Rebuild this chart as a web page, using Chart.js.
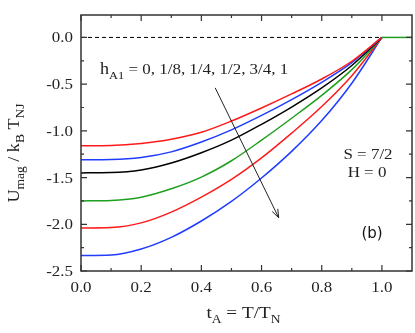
<!DOCTYPE html>
<html>
<head>
<meta charset="utf-8">
<script src="https://cdn.jsdelivr.net/npm/chart.js@4.4.0/dist/chart.umd.min.js"></script>
<style>
  body { margin: 0; background: #fff; }
  canvas { display: block; }
</style>
</head>
<body>
<canvas id="chart" width="415" height="333"></canvas>
<script>
// reduced temperature t_A
const tValues = [0, 0.1, 0.2, 0.3, 0.4, 0.5, 0.6, 0.7, 0.8, 0.9, 1.0];

// U_mag / k_B T_NJ for each h_A1
const uH0   = [-1.16, -1.157, -1.135, -1.09, -1.015, -0.895, -0.755, -0.605, -0.445, -0.255, 0];
const uH1_8 = [-1.31, -1.307, -1.285, -1.225, -1.12, -0.99, -0.835, -0.665, -0.48, -0.27, 0];
const uH1_4 = [-1.45, -1.447, -1.42, -1.345, -1.235, -1.1, -0.93, -0.745, -0.54, -0.30, 0];
const uH1_2 = [-1.75, -1.745, -1.71, -1.62, -1.495, -1.32, -1.1, -0.865, -0.62, -0.345, 0];
const uH3_4 = [-2.04, -2.035, -1.985, -1.87, -1.71, -1.52, -1.29, -1.025, -0.74, -0.41, 0];
const uH1   = [-2.335, -2.33, -2.265, -2.14, -1.965, -1.755, -1.505, -1.22, -0.89, -0.49, 0];

// above T_N the energy stays at zero
const tailT = [1.0, 1.1];
const tailU = [0, 0];
// dashed reference line
const zeroT = [0, 1.0];
const zeroU = [0, 0];

const xMajorTicks = [0, 0.2, 0.4, 0.6, 0.8, 1.0];
const xMinorTicks = [0.1, 0.3, 0.5, 0.7, 0.9];
const yMajorTicks = [0, -0.5, -1.0, -1.5, -2.0, -2.5];
const yMinorTicks = [-0.25, -0.75, -1.25, -1.75, -2.25];

// arrow in data coordinates (start, tip)
const arrowFrom = [0.446, -0.54];
const arrowTo = [0.657, -1.93];

const RED = '#ff1a1a';
const BLUE = '#1f3cff';
const BLACK = '#000000';
const GREEN = '#1f9f1f';

function pts(xs, ys) {
    return xs.map((x, i) => ({ x: x, y: ys[i] }));
}

function curve(data, color) {
    return {
        data: pts(tValues, data),
        borderColor: color,
        borderWidth: 1.5,
        pointRadius: 0,
        cubicInterpolationMode: 'monotone',
        fill: false
    };
}

const SERIF = '"Liberation Serif", "Times New Roman", serif';
const SX = 1.13; // the figure text is a bit wider than normal

// draw a run of text pieces (main text + subscripts)
function richText(ctx, parts, x, y, align) {
    let total = 0;
    parts.forEach(p => {
        ctx.font = p.size + 'px ' + SERIF;
        p.w = ctx.measureText(p.t).width * SX;
        total += p.w;
    });
    let cx = x;
    if (align === 'center') cx = x - total / 2;
    parts.forEach(p => {
        ctx.save();
        ctx.font = p.size + 'px ' + SERIF;
        ctx.translate(cx, y + (p.dy || 0));
        ctx.scale(SX, 1);
        ctx.textAlign = 'left';
        ctx.textBaseline = 'alphabetic';
        ctx.fillText(p.t, 0, 0);
        ctx.restore();
        cx += p.w;
    });
}

function plainText(ctx, str, x, y, align, size) {
    ctx.save();
    ctx.font = size + 'px ' + SERIF;
    ctx.translate(x, y);
    ctx.scale(SX, 1);
    ctx.textAlign = align;
    ctx.textBaseline = 'alphabetic';
    ctx.fillText(str, 0, 0);
    ctx.restore();
}

const framePlugin = {
    id: 'frame',
    afterDraw(chart) {
        const ctx = chart.ctx;
        const a = chart.chartArea;
        const xs = chart.scales.x;
        const ys = chart.scales.y;
        ctx.save();

        // frame
        ctx.strokeStyle = '#333';
        ctx.lineWidth = 1.5;
        ctx.strokeRect(a.left, a.top, a.right - a.left, a.bottom - a.top);

        // inward ticks on all four sides
        ctx.lineWidth = 1.2;
        ctx.beginPath();
        const xt = (v, len) => {
            const px = xs.getPixelForValue(v);
            ctx.moveTo(px, a.bottom); ctx.lineTo(px, a.bottom - len);
            ctx.moveTo(px, a.top); ctx.lineTo(px, a.top + len);
        };
        const yt = (v, len) => {
            const py = ys.getPixelForValue(v);
            ctx.moveTo(a.left, py); ctx.lineTo(a.left + len, py);
            ctx.moveTo(a.right, py); ctx.lineTo(a.right - len, py);
        };
        xMajorTicks.forEach(v => xt(v, 6));
        xMinorTicks.forEach(v => xt(v, 3));
        yMajorTicks.forEach(v => yt(v, 6));
        yMinorTicks.forEach(v => yt(v, 3));
        ctx.stroke();

        // tick labels
        ctx.fillStyle = '#222';
        xMajorTicks.forEach(v => {
            plainText(ctx, v.toFixed(1), xs.getPixelForValue(v), a.bottom + 21, 'center', 15);
        });
        yMajorTicks.forEach(v => {
            plainText(ctx, v.toFixed(1), a.left - 8, ys.getPixelForValue(v) + 5, 'right', 15);
        });

        // axis titles
        richText(ctx, [
            { t: 't', size: 17 },
            { t: 'A', size: 12, dy: 5 },
            { t: ' = T/T', size: 17 },
            { t: 'N', size: 12, dy: 5 }
        ], (a.left + a.right) / 2 - 3, 318, 'center');

        ctx.save();
        ctx.translate(19, (a.top + a.bottom) / 2 + 10);
        ctx.rotate(-Math.PI / 2);
        richText(ctx, [
            { t: 'U', size: 16 },
            { t: 'mag', size: 12, dy: 5 },
            { t: ' / k', size: 16 },
            { t: 'B', size: 12, dy: 5 },
            { t: ' T', size: 16 },
            { t: 'NJ', size: 12, dy: 5 }
        ], 0, 0, 'center');
        ctx.restore();

        // annotations
        richText(ctx, [
            { t: 'h', size: 16 },
            { t: 'A1', size: 11, dy: 5 },
            { t: ' = 0, 1/8, 1/4, 1/2, 3/4, 1', size: 15 }
        ], 100, 74, 'left');
        plainText(ctx, 'S = 7/2', 368, 159, 'center', 15);
        plainText(ctx, 'H = 0', 367, 177, 'center', 15);

        ctx.font = '15px "DejaVu Sans", sans-serif';
        ctx.textAlign = 'center';
        ctx.fillStyle = '#111';
        ctx.fillText('(b)', 372, 238);

        // arrow
        const x0 = xs.getPixelForValue(arrowFrom[0]);
        const y0 = ys.getPixelForValue(arrowFrom[1]);
        const x1 = xs.getPixelForValue(arrowTo[0]);
        const y1 = ys.getPixelForValue(arrowTo[1]);
        const ang = Math.atan2(y1 - y0, x1 - x0);
        ctx.strokeStyle = '#222';
        ctx.lineWidth = 1;
        ctx.beginPath();
        ctx.moveTo(x0, y0);
        ctx.lineTo(x1, y1);
        ctx.moveTo(x1, y1);
        ctx.lineTo(x1 - 9 * Math.cos(ang - 0.35), y1 - 9 * Math.sin(ang - 0.35));
        ctx.moveTo(x1, y1);
        ctx.lineTo(x1 - 9 * Math.cos(ang + 0.35), y1 - 9 * Math.sin(ang + 0.35));
        ctx.stroke();

        ctx.restore();
    }
};

const ctx = document.getElementById('chart').getContext('2d');
new Chart(ctx, {
    type: 'line',
    data: {
        datasets: [
            { data: pts(tailT, tailU), borderColor: GREEN, borderWidth: 1.5, pointRadius: 0 },
            curve(uH0, RED),
            curve(uH1_8, BLUE),
            curve(uH1_4, BLACK),
            curve(uH1_2, GREEN),
            curve(uH3_4, RED),
            curve(uH1, BLUE),
            { data: pts(zeroT, zeroU), borderColor: BLACK, borderWidth: 1, borderDash: [4, 3], pointRadius: 0 }
        ]
    },
    options: {
        responsive: false,
        animation: false,
        layout: { padding: { left: 0, right: 3, top: 15, bottom: 0 } },
        plugins: {
            legend: { display: false },
            tooltip: { enabled: false }
        },
        scales: {
            x: {
                type: 'linear',
                min: 0,
                max: 1.1,
                grid: { display: false },
                border: { display: false },
                ticks: { display: false },
                afterFit(scale) { scale.height = 62; }
            },
            y: {
                type: 'linear',
                min: -2.5,
                max: 0.24,
                grid: { display: false },
                border: { display: false },
                ticks: { display: false },
                afterFit(scale) { scale.width = 81; }
            }
        }
    },
    plugins: [framePlugin]
});
</script>
</body>
</html>
